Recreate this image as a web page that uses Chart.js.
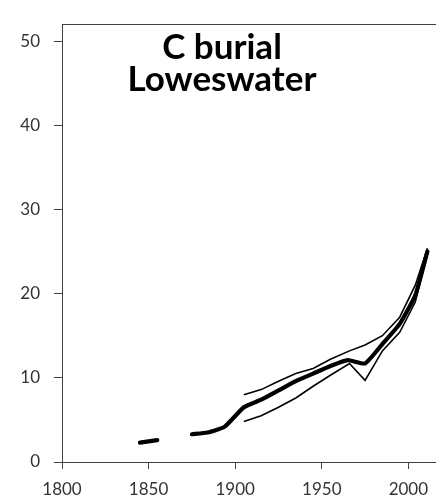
<!DOCTYPE html>
<html>
<head>
<meta charset="utf-8">
<script src="https://cdn.jsdelivr.net/npm/chart.js@4.4.0/dist/chart.umd.min.js"></script>
<style>
    html, body { margin: 0; padding: 0; background: #fff; overflow: hidden; }
    #wrap { width: 436px; height: 500px; overflow: hidden; }
</style>
</head>
<body>
<div id="wrap"><canvas id="chartLine" width="450" height="500"></canvas></div>
<script>
const titleLines = ["C burial", "Loweswater"];

// mean burial rate (null leaves the gap in the record)
const meanYears = [1845, 1855, 1865, 1875, 1884, 1894, 1905, 1915, 1925, 1935, 1945, 1955, 1965, 1975, 1985, 1995, 2004, 2011];
const meanValues = [2.3, 2.6, null, 3.3, 3.5, 4.2, 6.5, 7.4, 8.5, 9.6, 10.5, 11.4, 12.1, 11.7, 14.0, 16.4, 19.8, 25.0];

// upper and lower bounds
const boundYears = [1905, 1915, 1925, 1935, 1945, 1955, 1966, 1975, 1985, 1995, 2004, 2011];
const upperValues = [8.0, 8.6, 9.6, 10.5, 11.1, 12.2, 13.2, 13.9, 15.0, 17.2, 21.0, 25.4];
const lowerValues = [4.8, 5.5, 6.5, 7.6, 9.0, 10.3, 11.7, 9.7, 13.2, 15.4, 19.0, 24.8];

const yTicks = [0, 10, 20, 30, 40, 50];
const xTicks = [1800, 1850, 1900, 1950, 2000];

const AXIS_COLOR = "#404040";
const TEXT_COLOR = "#333333";

function toPoints(years, values) {
    return years.map((year, index) => ({ x: year, y: values[index] }));
}

function keepTicks(list) {
    return (scale) => {
        scale.ticks = list.map((value) => ({ value }));
    };
}

const titlePlugin = {
    id: "titleText",
    afterDraw(chart) {
        const ctx = chart.ctx;
        ctx.save();
        ctx.font = "bold 35px Lato";
        ctx.fillStyle = "#000";
        ctx.textAlign = "center";
        ctx.textBaseline = "alphabetic";
        titleLines.forEach((line, i) => ctx.fillText(line, 222, 59 + i * 32));
        ctx.restore();
    },
};

const thinLine = {
    borderColor: "#000",
    borderWidth: 1.6,
    pointRadius: 0,
    tension: 0,
    fill: false,
};

const configLineChart = {
    type: "line",
    data: {
        datasets: [
            {
                label: "mean",
                data: toPoints(meanYears, meanValues),
                borderColor: "#000",
                borderWidth: 4.2,
                borderCapStyle: "round",
                borderJoinStyle: "round",
                pointRadius: 0,
                tension: 0.15,
                spanGaps: false,
                fill: false,
            },
            { label: "upper", data: toPoints(boundYears, upperValues), ...thinLine },
            { label: "lower", data: toPoints(boundYears, lowerValues), ...thinLine },
        ],
    },
    options: {
        responsive: false,
        animation: false,
        layout: { padding: { top: 14, left: 0, right: 7, bottom: 0 } },
        plugins: {
            legend: { display: false },
            tooltip: { enabled: false },
        },
        scales: {
            x: {
                type: "linear",
                position: "bottom",
                min: 1800,
                max: 2020,
                afterBuildTicks: keepTicks(xTicks),
                afterFit: (scale) => { scale.height = 38; },
                ticks: {
                    color: TEXT_COLOR,
                    font: { family: "Lato", size: 17 },
                    padding: 10,
                    maxRotation: 0,
                    callback: (value) => String(value),
                },
                grid: {
                    drawOnChartArea: false,
                    tickLength: 7,
                    tickColor: AXIS_COLOR,
                },
                border: { color: AXIS_COLOR, width: 1 },
            },
            xTop: {
                type: "linear",
                position: "top",
                min: 0,
                max: 1,
                afterFit: (scale) => { scale.height = 0; },
                ticks: { display: false },
                grid: { display: false },
                border: { display: true, color: AXIS_COLOR, width: 1 },
            },
            y: {
                min: 0,
                max: 52,
                afterBuildTicks: keepTicks(yTicks),
                afterFit: (scale) => { scale.width = 62; },
                ticks: {
                    color: TEXT_COLOR,
                    font: { family: "Lato", size: 17 },
                    padding: 14,
                },
                grid: {
                    drawOnChartArea: false,
                    tickLength: 8,
                    tickColor: AXIS_COLOR,
                },
                border: { color: AXIS_COLOR, width: 1 },
            },
        },
    },
    plugins: [titlePlugin],
};

new Chart(document.getElementById("chartLine"), configLineChart);
</script>
</body>
</html>
